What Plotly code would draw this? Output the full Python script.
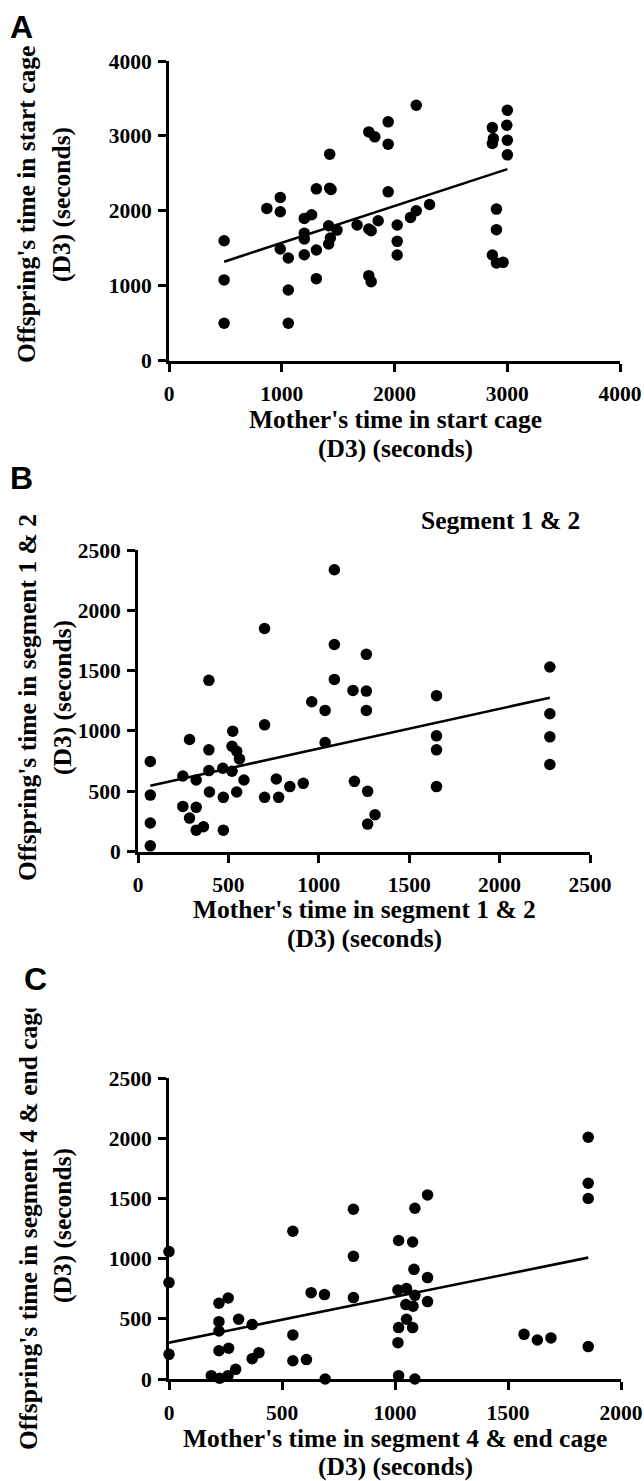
import plotly.graph_objects as go

W, H = 644, 1481

# ---------------- data ----------------
# Panel A: start cage
a_x = [489, 489, 489, 868, 987, 987, 987, 1058, 1058, 1058, 1200, 1265, 1200, 1200, 1200,
       1307, 1307, 1307, 1425, 1425, 1437, 1416, 1431, 1416, 1490, 1668, 1772, 1825, 1772,
       1793, 1772, 1793, 1855, 1944, 1944, 1944, 2024, 2024, 2024, 2142, 2193, 2193, 2311,
       2868, 2877, 2868, 2996, 3001, 3001, 3001, 2904, 2904, 2868, 2904, 2963]
a_y = [1600, 1076, 498, 2031, 2178, 1987, 1489, 1369, 942, 498, 1898, 1947, 1698, 1622, 1413,
       2293, 1476, 1093, 2756, 2302, 2284, 1800, 1636, 1556, 1742, 1809, 3053, 2987, 1756,
       1733, 1133, 1053, 1867, 3187, 2889, 2253, 1809, 1591, 1409, 1911, 2000, 3409, 2084,
       3111, 2964, 2898, 3142, 3342, 2942, 2747, 2022, 1747, 1409, 1302, 1311]
a_fit_x = [489, 3001]
a_fit_y = [1320, 2556]

# Panel B: segment 1 & 2
b_x = [68, 68, 68, 68, 248, 285, 248, 285, 322, 322, 322, 362, 392, 392, 392, 395, 469, 472,
       472, 524, 520, 546, 561, 520, 546, 586, 700, 700, 700, 765, 778, 840, 914, 961, 1035,
       1035, 1086, 1086, 1086, 1189, 1197, 1263, 1263, 1263, 1270, 1270, 1311, 1651, 1651,
       1651, 1651, 2278, 2278, 2278, 2278]
b_y = [746, 468, 236, 47, 626, 929, 374, 277, 593, 366, 177, 205, 1419, 843, 671, 493, 690, 449,
       177, 998, 873, 831, 768, 665, 493, 593, 1849, 1050, 449, 601, 449, 538, 565, 1242, 1170,
       904, 2336, 1716, 1427, 1336, 582, 1635, 1330, 1170, 499, 227, 305, 1292, 959,
       843, 538, 1530, 1142, 951, 721]
b_fit_x = [68, 2278]
b_fit_y = [546, 1275]

# Panel C: segment 4 & end cage
c_x = [0, 0, 0, 187, 224, 261, 295, 221, 262, 221, 221, 221, 264, 308, 368, 368, 398, 548, 548,
       548, 608, 629, 688, 691, 816, 816, 816, 1016, 1078, 1088, 1144, 1084, 1144, 1013, 1051,
       1088, 1048, 1080, 1144, 1051, 1016, 1078, 1013, 1016, 1088, 1571, 1630, 1690, 1855,
       1855, 1855, 1855]
c_y = [1058, 801, 205, 28, 6, 28, 80, 629, 673, 476, 399, 235, 255, 496, 452, 169, 219, 1227, 366,
       152, 161, 717, 701, 0, 1410, 1019, 676, 1150, 1138, 1418, 1529, 911, 842, 740, 751,
       695, 618, 604, 643, 496, 427, 427, 302, 28, 0, 371, 324, 341, 269,
       1499, 1626, 2008]
c_fit_x = [0, 1855]
c_fit_y = [302, 1008]

x_ticks_a = [0, 1000, 2000, 3000, 4000]
y_ticks_a = [0, 1000, 2000, 3000, 4000]
x_ticks_b = [0, 500, 1000, 1500, 2000, 2500]
y_ticks_b = [0, 500, 1000, 1500, 2000, 2500]
x_ticks_c = [0, 500, 1000, 1500, 2000]
y_ticks_c = [0, 500, 1000, 1500, 2000, 2500]

# ---------------- helpers ----------------
def px(x):
    return x / W

def py(y):
    return 1 - y / H

SERIF = "Liberation Serif, Times New Roman, serif"
SANS = "Liberation Sans, Arial, sans-serif"

fig = go.Figure()

panels = [
    (a_x, a_y, a_fit_x, a_fit_y, "x", "y"),
    (b_x, b_y, b_fit_x, b_fit_y, "x2", "y2"),
    (c_x, c_y, c_fit_x, c_fit_y, "x3", "y3"),
]
for xs, ys, fx, fy, xa, ya in panels:
    fig.add_trace(go.Scatter(x=xs, y=ys, mode="markers", xaxis=xa, yaxis=ya,
                             marker=dict(size=11.5, color="black"), cliponaxis=False,
                             showlegend=False, hoverinfo="x+y"))
    fig.add_trace(go.Scatter(x=fx, y=fy, mode="lines", xaxis=xa, yaxis=ya,
                             line=dict(color="black", width=2.6), cliponaxis=False,
                             showlegend=False, hoverinfo="skip"))

tickfont = dict(family=SERIF, size=21.5, color="black", weight="bold")

def axis(domain, rng, ticks, anchor, standoff):
    return dict(domain=domain, range=rng, tickvals=ticks, ticktext=[str(t) for t in ticks],
                showline=True, linewidth=3, linecolor="black", ticks="outside",
                ticklen=8, tickwidth=3, tickcolor="black", showgrid=False, zeroline=False,
                tickfont=tickfont, anchor=anchor, ticklabelstandoff=standoff, fixedrange=True,
                automargin=False)

fig.update_layout(
    width=W, height=H, margin=dict(l=0, r=0, t=0, b=0, pad=0), autosize=False,
    paper_bgcolor="white", plot_bgcolor="white",
    xaxis=axis([px(169), px(620)], [0, 4000], x_ticks_a, "y", 4),
    yaxis=axis([py(360.5), py(61)], [0, 4000], y_ticks_a, "x", 2),
    xaxis2=axis([px(138), px(590)], [0, 2500], x_ticks_b, "y2", 4),
    yaxis2=axis([py(851.5), py(550)], [0, 2500], y_ticks_b, "x2", 2),
    xaxis3=axis([px(169), px(621)], [0, 2000], x_ticks_c, "y3", 4),
    yaxis3=axis([py(1379), py(1078)], [0, 2500], y_ticks_c, "x3", 2),
)

title_font = dict(family=SERIF, size=25.5, color="black", weight="bold")
annotations = []

def text(t, x, y, angle=0, font=title_font, **kw):
    annotations.append(dict(text=t, x=px(x), y=py(y), xref="paper", yref="paper",
                            showarrow=False, textangle=angle, font=font,
                            xanchor="center", yanchor="middle", **kw))

# x-axis titles
text("Mother's time in start cage", 395, 419)
text("(D3) (seconds)", 395, 448)
text("Mother's time in segment 1 & 2", 364, 909)
text("(D3) (seconds)", 364, 938)
text("Mother's time in segment 4 & end cage", 395, 1438)
text("(D3) (seconds)", 395, 1466)

# y-axis titles
text("Offspring's time in start cage", 27, 205, angle=-90)
text("(D3) (seconds)", 62, 205, angle=-90)
text("Offspring's time in segment 1 & 2", 27, 698, angle=-90)
text("(D3) (seconds)", 62, 698, angle=-90)
text("Offspring's time in segment 4 & end cage", 28, 1226, angle=-90)
text("(D3) (seconds)", 62, 1226, angle=-90)

# mask: the C-panel y title is cut off at its top in the original
annotations.append(dict(text=" ", x=px(28), y=py(971), xref="paper", yref="paper",
                        showarrow=False, width=58, height=74, bgcolor="white",
                        xanchor="center", yanchor="middle", borderpad=0))

# panel annotation
text("Segment 1 & 2", 500, 520)

# panel letters
letter_font = dict(family=SANS, size=32, color="black", weight="bold")
text("A", 21, 27, font=letter_font)
text("B", 21, 478, font=letter_font)
text("C", 35, 979, font=letter_font)

fig.update_layout(annotations=annotations)

fig.write_html("out.html", config={"displayModeBar": False},
               post_script="document.body.style.margin='0';document.body.style.overflow='hidden';")
